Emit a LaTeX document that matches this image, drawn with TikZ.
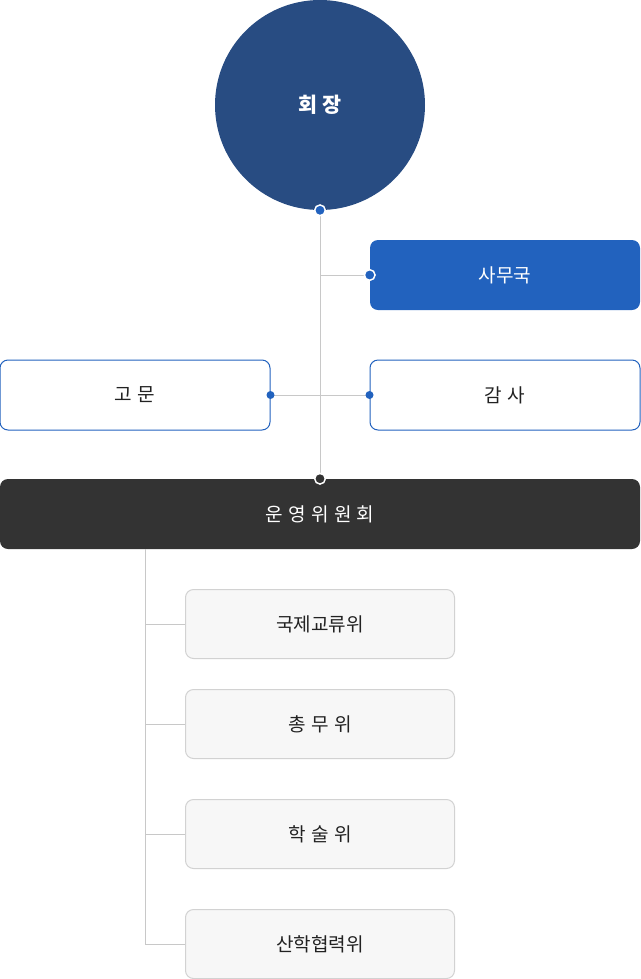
\documentclass[tikz,border=0pt]{standalone}
\usepackage{fontspec}
\setmainfont{Noto Sans CJK KR}
\usetikzlibrary{positioning}
\definecolor{chair}{HTML}{284C82}
\definecolor{blue1}{HTML}{2262BE}
\definecolor{dark1}{HTML}{333333}
\definecolor{line1}{HTML}{C8C8C8}
\definecolor{sub1}{HTML}{F7F7F7}
\definecolor{subb}{HTML}{D2D2D2}
\definecolor{txt1}{HTML}{222222}
\newcommand{\gp}{\hspace{0.28em}}
\tikzset{
  x=0.75pt, y=-0.75pt,
  conn/.style={draw=line1, line width=0.75pt},
  box/.style={rectangle, rounded corners=6pt, minimum width=202.5pt, minimum height=52.5pt, inner sep=0pt, font=\fontsize{14.3pt}{17pt}\selectfont},
  bluebox/.style={box, fill=blue1, text=white},
  outbox/.style={box, draw=blue1, line width=0.75pt, fill=white, text=txt1},
  darkbox/.style={box, fill=dark1, text=white, minimum width=480pt},
  subbox/.style={box, fill=sub1, draw=subb, line width=0.75pt, text=txt1, minimum width=201.75pt, minimum height=51.75pt},
  dotb/.style={circle, fill=blue1, draw=white, line width=1.1pt, minimum size=8pt, inner sep=0pt},
  dotd/.style={circle, fill=dark1, draw=white, line width=1.1pt, minimum size=8pt, inner sep=0pt},
  dotf/.style={circle, fill=blue1, minimum size=6pt, inner sep=0pt},
}
\begin{document}
\begin{tikzpicture}
\useasboundingbox (0,0) rectangle (640,979);
% chairman
\node[circle, fill=chair, minimum size=157.5pt, inner sep=0pt, text=white, font=\fontsize{15.5pt}{18pt}\selectfont\bfseries] (chair) at (320,105) {회\gp 장};
% boxes
\node[bluebox] (sec) at (505,275) {사무국};
\node[outbox] (adv) at (135,395) {고\gp 문};
\node[outbox] (aud) at (505,395) {감\gp 사};
\node[darkbox] (com) at (320,514) {운\gp 영\gp 위\gp 원\gp 회};
\node[subbox] (s1) at (320,624) {국제교류위};
\node[subbox] (s2) at (320,724) {총\gp 무\gp 위};
\node[subbox] (s3) at (320,834) {학\gp 술\gp 위};
\node[subbox] (s4) at (320,944) {산학협력위};
% coordinates
\coordinate (j1) at (320,275);
\coordinate (t0) at (145,549);
\coordinate (t1) at (145,624);
\coordinate (t2) at (145,724);
\coordinate (t3) at (145,834);
\coordinate (t4) at (145,944);
% connectors
\draw[conn] (chair.south) -- (com.north);
\draw[conn] (j1) -- (sec.west);
\draw[conn] (adv.east) -- (aud.west);
\draw[conn] (t0) -- (t4);
\draw[conn] (t1) -- (s1.west);
\draw[conn] (t2) -- (s2.west);
\draw[conn] (t3) -- (s3.west);
\draw[conn] (t4) -- (s4.west);
% dots
\node[dotb] (d1) at (chair.south) {};
\node[dotb] (d2) at (sec.west) {};
\node[dotf] (d3) at (adv.east) {};
\node[dotf] (d4) at (aud.west) {};
\node[dotd] (d5) at (com.north) {};
\end{tikzpicture}
\end{document}
